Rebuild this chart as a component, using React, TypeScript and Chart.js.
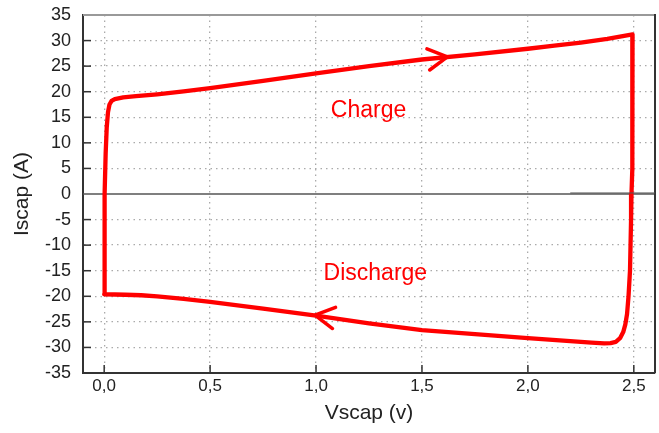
import React, { useEffect, useRef } from 'react';
import { Chart, registerables } from 'chart.js';

Chart.register(...registerables);

// Closed charge/discharge loop (Vscap in V, Iscap in A)
const loopV = [
  0.0, 0.001, 0.003, 0.007, 0.012, 0.018, 0.025, 0.035, 0.05, 0.09, 0.15, 0.25, 0.375, 0.5, 0.75, 1.0, 1.25, 1.5, 1.75,
  2.0, 2.125, 2.25, 2.375, 2.494, 2.494, 2.492, 2.489, 2.487, 2.482, 2.475, 2.468, 2.46, 2.45, 2.435, 2.415, 2.39, 2.36,
  2.3, 2.2, 2.0, 1.75, 1.5, 1.25, 1.0, 0.75, 0.5, 0.375, 0.25, 0.175, 0.1, 0.0,
];
const loopI = [
  -19.6, -10, 0, 8, 13, 16, 17.5, 18.2, 18.55, 18.9, 19.15, 19.5, 20.05, 20.7, 22.1, 23.6, 25.0, 26.3, 27.3,
  28.4, 29.0, 29.6, 30.35, 31.2, 20, 5, 0, -5, -15, -20, -23.5, -25.5, -27, -28.2, -28.9, -29.15, -29.2,
  -29.05, -28.75, -28.2, -27.4, -26.6, -25.3, -23.8, -22.4, -21.1, -20.5, -20.0, -19.8, -19.7, -19.6,
];

// faint dark trace near zero on the right
const traceV = [2.2, 2.6];
const traceI = [0.2, 0.2];

const xTicks = [0, 0.5, 1.0, 1.5, 2.0, 2.5];
const yTicks = [-35, -30, -25, -20, -15, -10, -5, 0, 5, 10, 15, 20, 25, 30, 35];
const xMin = -0.1;
const xMax = 2.6;
const yMin = -35;
const yMax = 35;

// direction arrows on the loop (tip position + direction in data units)
const arrowX = [1.62, 0.995];
const arrowY = [26.8, -23.7];
const arrowDX = [0.5, -0.25];
const arrowDY = [2.7, 1.5];

// annotations
const labelText = ['Charge', 'Discharge'];
const labelX = [1.248, 1.28];
const labelY = [15.06, -16.8];

const xTitle = 'Vscap (v)';
const yTitle = 'Iscap (A)';

const FONT = "'Liberation Sans', Arial, sans-serif";

const framePlugin = {
  id: 'frameTicks',
  beforeDatasetsDraw(chart: any) {
    const { ctx, chartArea, scales } = chart;
    const { left, right, top, bottom } = chartArea;
    const x = scales.x;
    const y = scales.y;
    const line = (x1: number, y1: number, x2: number, y2: number) => {
      ctx.beginPath();
      ctx.moveTo(x1, y1);
      ctx.lineTo(x2, y2);
      ctx.stroke();
    };
    ctx.save();
    ctx.setLineDash([]);
    // zero line
    const y0 = y.getPixelForValue(0);
    ctx.strokeStyle = '#555';
    ctx.lineWidth = 1.5;
    line(left, y0, right, y0);
    // inward tick marks
    ctx.strokeStyle = '#333';
    ctx.lineWidth = 1.5;
    xTicks.forEach((v) => {
      const px = x.getPixelForValue(v);
      line(px, bottom, px, bottom - 8);
    });
    yTicks.forEach((v) => {
      if (v === yMin || v === yMax || v === 0) return;
      const py = y.getPixelForValue(v);
      line(left, py, left + 8, py);
    });
    // top & right frame
    ctx.strokeStyle = '#999';
    ctx.lineWidth = 2;
    line(left, top, right, top);
    ctx.strokeStyle = '#333';
    line(right, top - 1, right, bottom);
    ctx.restore();
  },
};

const annotPlugin = {
  id: 'annot',
  afterDatasetsDraw(chart: any) {
    const { ctx, scales } = chart;
    const x = scales.x;
    const y = scales.y;
    ctx.save();
    // arrows
    ctx.strokeStyle = '#ff0000';
    ctx.lineWidth = 3.5;
    ctx.lineCap = 'round';
    ctx.lineJoin = 'round';
    const L = 22;
    const phi = (29 * Math.PI) / 180;
    for (let i = 0; i < arrowX.length; i++) {
      const tx = x.getPixelForValue(arrowX[i]);
      const ty = y.getPixelForValue(arrowY[i]);
      const bx = x.getPixelForValue(arrowX[i] - arrowDX[i]);
      const by = y.getPixelForValue(arrowY[i] - arrowDY[i]);
      const th = Math.atan2(ty - by, tx - bx) + Math.PI;
      ctx.beginPath();
      ctx.moveTo(tx + L * Math.cos(th - phi), ty + L * Math.sin(th - phi));
      ctx.lineTo(tx, ty);
      ctx.lineTo(tx + L * Math.cos(th + phi), ty + L * Math.sin(th + phi));
      ctx.stroke();
    }
    // text labels
    ctx.fillStyle = '#ff0000';
    ctx.font = `23px ${FONT}`;
    ctx.textAlign = 'center';
    ctx.textBaseline = 'alphabetic';
    for (let i = 0; i < labelText.length; i++) {
      ctx.fillText(labelText[i], x.getPixelForValue(labelX[i]), y.getPixelForValue(labelY[i]));
    }
    ctx.restore();
  },
};

export default function App() {
  const ref = useRef<HTMLCanvasElement | null>(null);
  useEffect(() => {
    if (!ref.current) return;
    const loopData = loopV.map((v, i) => ({ x: v, y: loopI[i] }));
    const traceData = traceV.map((v, i) => ({ x: v, y: traceI[i] }));
    const gridDash = [1.5, 4];
    const chart = new Chart(ref.current, {
      type: 'scatter',
      data: {
        datasets: [
          {
            data: traceData,
            showLine: true,
            borderColor: '#555',
            borderWidth: 1,
            pointRadius: 0,
          },
          {
            data: loopData,
            showLine: true,
            borderColor: '#ff0000',
            borderWidth: 4.3,
            pointRadius: 0,
            tension: 0,
            borderJoinStyle: 'round',
            borderCapStyle: 'round',
          },
        ],
      },
      options: {
        animation: false,
        responsive: false,
        maintainAspectRatio: false,
        layout: { padding: { top: 15, right: 4, left: 0, bottom: 0 } },
        plugins: { legend: { display: false }, tooltip: { enabled: false } },
        scales: {
          x: {
            type: 'linear',
            position: 'bottom',
            min: xMin,
            max: xMax,
            afterBuildTicks: (s: any) => {
              s.ticks = xTicks.map((v) => ({ value: v }));
            },
            afterFit: (s: any) => {
              s.height = 60;
              s.paddingLeft = 0;
              s.paddingRight = 0;
            },
            ticks: {
              color: '#222',
              font: { family: FONT, size: 17 },
              padding: 3,
              maxRotation: 0,
              callback: (v: any) => Number(v).toFixed(1).replace('.', ','),
            },
            grid: {
              color: '#aaa',
              lineWidth: 1.3,
              drawTicks: false,
            },
            border: { display: true, color: '#333', width: 2, dash: gridDash },
            title: {
              display: true,
              text: xTitle,
              color: '#222',
              font: { family: FONT, size: 21 },
              padding: { top: 0, bottom: 7 },
            },
          },
          y: {
            type: 'linear',
            min: yMin,
            max: yMax,
            afterBuildTicks: (s: any) => {
              s.ticks = yTicks.map((v) => ({ value: v }));
            },
            afterFit: (s: any) => {
              s.width = 83;
              s.paddingTop = 0;
              s.paddingBottom = 0;
            },
            ticks: {
              color: '#222',
              font: { family: FONT, size: 18 },
              padding: 12,
              callback: (v: any) => String(v),
            },
            grid: {
              color: (c: any) => {
                const v = c.tick ? c.tick.value : null;
                return v === 0 || v === yMin || v === yMax ? 'rgba(0,0,0,0)' : '#aaa';
              },
              lineWidth: 1.3,
              drawTicks: false,
            },
            border: { display: true, color: '#333', width: 2, dash: gridDash },
            title: {
              display: true,
              text: yTitle,
              color: '#222',
              font: { family: FONT, size: 21 },
              padding: { top: 10, bottom: 0 },
            },
          },
        },
      },
      plugins: [framePlugin, annotPlugin],
    } as any);
    return () => chart.destroy();
  }, []);
  return (
    <div style={{ position: 'absolute', left: 0, top: 0, width: 659, height: 433, background: '#fff' }}>
      <canvas ref={ref} width={659} height={433} />
    </div>
  );
}
